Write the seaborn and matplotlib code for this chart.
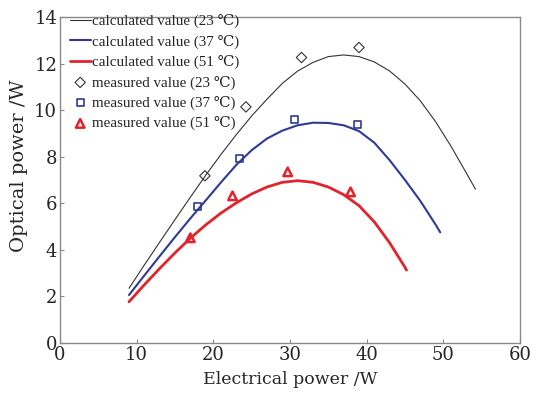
import matplotlib
matplotlib.use("Agg")
import matplotlib.pyplot as plt
import seaborn as sns

# calculated curves
calc23_x = [9, 11, 13, 15, 17, 19, 21, 23, 25, 27, 29, 31, 33, 35, 37, 39, 41, 43, 45, 47, 49, 51, 53, 54.2]
calc23_y = [2.35, 3.35, 4.33, 5.3, 6.26, 7.2, 8.1, 8.95, 9.75, 10.47, 11.15, 11.68, 12.05, 12.3, 12.37,
            12.3, 12.07, 11.68, 11.12, 10.4, 9.5, 8.45, 7.3, 6.6]
calc37_x = [9, 11, 13, 15, 17, 19, 21, 23, 25, 27, 29, 31, 33, 35, 37, 39, 41, 43, 45, 47, 49, 49.6]
calc37_y = [2.06, 2.9, 3.73, 4.55, 5.35, 6.12, 6.9, 7.65, 8.28, 8.78, 9.12, 9.35, 9.46, 9.45, 9.35,
            9.1, 8.6, 7.85, 7.0, 6.1, 5.08, 4.75]
calc51_x = [9, 11, 13, 15, 17, 19, 21, 23, 25, 27, 29, 31, 33, 35, 37, 39, 41, 43, 45, 45.2]
calc51_y = [1.77, 2.5, 3.2, 3.87, 4.5, 5.07, 5.58, 6.02, 6.4, 6.7, 6.9, 6.97, 6.9, 6.7, 6.37,
            5.9, 5.2, 4.3, 3.25, 3.13]

# measured values
meas23_x = [18.9, 24.25, 31.5, 39.0]
meas23_y = [7.18, 10.14, 12.26, 12.69]
meas37_x = [17.95, 23.4, 30.6, 38.8]
meas37_y = [5.85, 7.93, 9.6, 9.39]
meas51_x = [17.0, 22.5, 29.7, 37.9]
meas51_y = [4.52, 6.32, 7.35, 6.49]

labels_calc = ["calculated value (23 \u2103)", "calculated value (37 \u2103)", "calculated value (51 \u2103)"]
labels_meas = ["measured value (23 \u2103)", "measured value (37 \u2103)", "measured value (51 \u2103)"]

sns.set_style("white")
plt.rcParams['font.family'] = ['DejaVu Serif', 'DejaVu Sans']

c_black = "#333333"
c_blue = "#2e3a94"
c_red = "#e2232b"

fig = plt.figure(figsize=(5.37, 3.93), dpi=100)
ax = fig.add_axes([60/537, 1-343/393, 460/537, 326/393])

for xs, ys, col, lw, lab in [(calc23_x, calc23_y, c_black, 0.8, labels_calc[0]),
                             (calc37_x, calc37_y, c_blue, 1.5, labels_calc[1]),
                             (calc51_x, calc51_y, c_red, 2.0, labels_calc[2])]:
    sns.lineplot(x=xs, y=ys, color=col, linewidth=lw, label=lab, ax=ax, sort=False)

for xs, ys, col, mk, sz, lw, lab in [(meas23_x, meas23_y, c_black, 'D', 28, 0.8, labels_meas[0]),
                                     (meas37_x, meas37_y, c_blue, 's', 26, 1.2, labels_meas[1]),
                                     (meas51_x, meas51_y, c_red, '^', 38, 1.8, labels_meas[2])]:
    sns.scatterplot(x=xs, y=ys, marker=mk, s=sz, facecolor='none', edgecolor=col,
                    linewidth=lw, label=lab, ax=ax)

ax.set_xlim(0, 60)
ax.set_ylim(0, 14)
ax.set_xticks(range(0, 61, 10))
ax.set_yticks(range(0, 15, 2))
ax.tick_params(direction='in', length=3, width=0.8, color='#888888', labelsize=13,
               bottom=True, left=True, top=False, right=False, pad=2)
for s in ax.spines.values():
    s.set_color('#8a8a8a')
    s.set_linewidth(1.0)
ax.set_xlabel("Electrical power /W", fontsize=12.5, labelpad=5)
ax.set_ylabel("Optical power /W", fontsize=14, labelpad=2)
ax.yaxis.set_label_coords(-0.07, 0.545)

leg = ax.legend(loc='upper left', frameon=False, handlelength=1.4,
                handletextpad=0.1, labelspacing=0.42, borderaxespad=0.0,
                bbox_to_anchor=(0.008, 1.028),
                prop={'family': ['Liberation Serif', 'DejaVu Serif'], 'size': 10.8})

fig.savefig("out.png", dpi=100)
